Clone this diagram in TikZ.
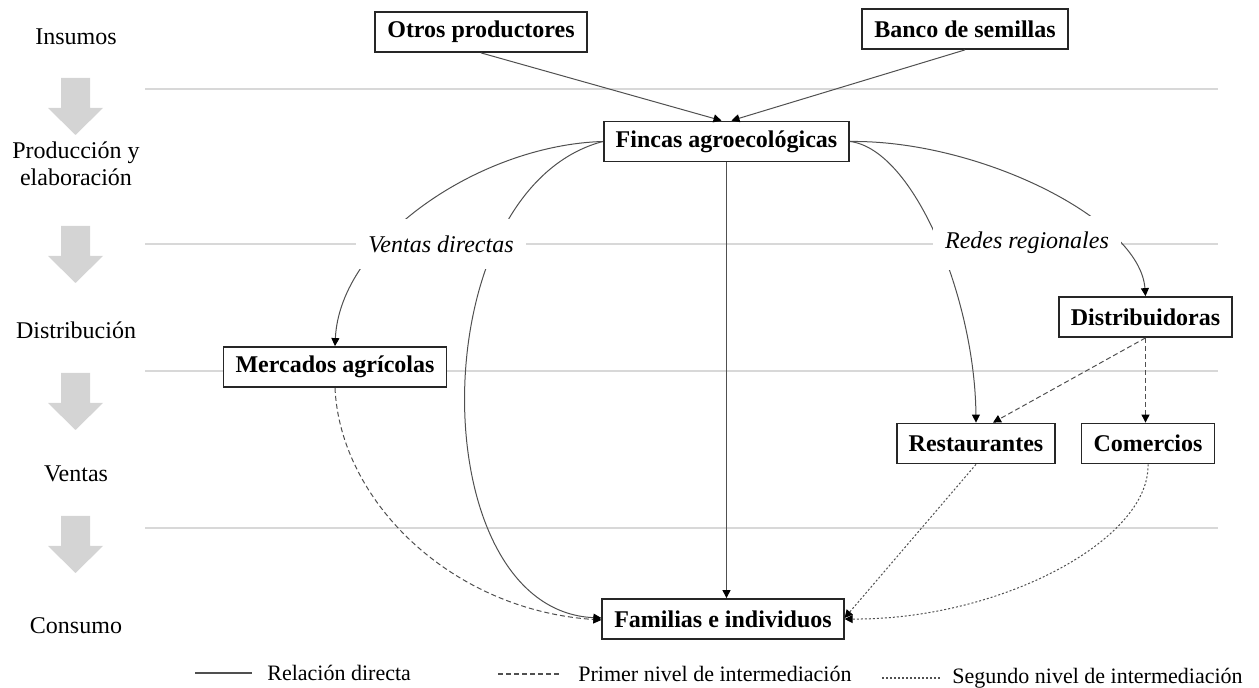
\documentclass[tikz,border=0pt]{standalone}
\usepackage{fontspec}
\setmainfont{Liberation Serif}
\usetikzlibrary{arrows.meta}
\definecolor{guide}{RGB}{216,216,216}
\definecolor{stagearrow}{RGB}{212,212,212}
\definecolor{link}{RGB}{80,80,80}

\begin{document}
\begin{tikzpicture}[x=0.5pt,y=-0.5pt,
  actor/.style={draw=black!85, line width=0.9pt, fill=white, minimum height=20pt,
    inner xsep=6pt, inner ysep=0pt, font=\fontsize{12}{14}\selectfont\bfseries},
  stage/.style={font=\fontsize{12}{13.5}\selectfont, align=center},
  channel/.style={fill=white, inner xsep=6pt, inner ysep=8pt,
    font=\fontsize{12}{14}\selectfont\itshape},
  flow/.style={draw=link, line width=0.5pt, -{Triangle[length=4pt,width=4pt,color=black]}},
  direct/.style={flow},
  first/.style={flow, dash pattern=on 2.5pt off 1.5pt},
  second/.style={flow, dash pattern=on 1pt off 1pt},
  sample/.style={draw=link, line width=0.55pt},
  legendtext/.style={font=\fontsize{11}{13}\selectfont, anchor=west, inner sep=0pt},
]
\useasboundingbox (0,0) rectangle (1259,688);

% stage separators
\foreach \yy in {89,244,371,528}
  \draw[guide, line width=0.7pt] (145,\yy) -- (1218,\yy);

% stage column: labels and block arrows
\node[stage] (s1) at (76,37) {Insumos};
\node[stage] (s2) at (76,164) {Producción y\\elaboración};
\node[stage] (s3) at (76,330) {Distribución};
\node[stage] (s4) at (76,474) {Ventas};
\node[stage] (s5) at (76,626) {Consumo};
\foreach \t in {78,226,373,516}
  \fill[stagearrow] (61,\t) -- (90,\t) -- (90,\t+30) -- (103,\t+30)
    -- (75.5,\t+57) -- (48,\t+30) -- (61,\t+30) -- cycle;

% actors
\node[actor] (otros) at (481,32) {Otros productores};
\node[actor] (banco) at (965,29) {Banco de semillas};
\node[actor] (fincas) at (726.5,141.5) {Fincas agroecológicas};
\node[actor] (merc) at (335,367) {Mercados agrícolas};
\node[actor] (dist) at (1145.5,317) {Distribuidoras};
\node[actor] (rest) at (976,443.5) {Restaurantes};
\node[actor] (com) at (1148,443.5) {Comercios};
\node[actor] (fam) at (723,619) {Familias e individuos};

% inputs
\draw[direct] (otros.south) -- ([xshift=-2.5pt]fincas.north);
\draw[direct] (banco.south) -- ([xshift=2.5pt]fincas.north);

% direct sales
\draw[direct] (fincas.west) .. controls (480,145) and (340,240) .. (merc.north);
\draw[direct] (fincas.west) .. controls (420,190) and (420,610) .. ([yshift=0.5pt]fam.west);
\draw[direct] (fincas.south) -- (fincas.south |- fam.north);

% regional networks
\draw[direct] (fincas.east) .. controls (915,150) and (975,300) .. (rest.north);
\draw[direct] (fincas.east) .. controls (980,140) and (1140,220) .. (dist.north);

% first level of intermediation
\draw[first] (dist.south) -- ([xshift=8.5pt]rest.north);
\draw[first] (dist.south) -- (dist.south |- com.north);
\draw[first] (merc.south) .. controls (340,500) and (450,610) .. ([yshift=-0.5pt]fam.west);

% second level of intermediation
\draw[second] (rest.south) -- ([yshift=0.5pt]fam.east);
\draw[second] (com.south) .. controls (1150,540) and (1000,620) .. (fam.east);

% channel labels
\node[channel] (vd) at (441,244) {Ventas directas};
\node[channel] (rr) at (1027,243) {Redes regionales};

% legend
\node[legendtext] (l1) at (267,673) {Relación directa};
\node[legendtext] (l2) at (578,674) {Primer nivel de intermediación};
\node[legendtext] (l3) at (952,678) {Segundo nivel de intermediación};
\draw[sample] ([xshift=-36pt]l1.west) -- ([xshift=-7.5pt]l1.west);
\draw[sample, dash pattern=on 2.5pt off 1.5pt] ([xshift=-40pt]l2.west) -- ([xshift=-9pt]l2.west);
\draw[sample, dash pattern=on 1pt off 1pt] ([xshift=-35pt]l3.west) -- ([xshift=-6pt]l3.west);
\end{tikzpicture}
\end{document}
